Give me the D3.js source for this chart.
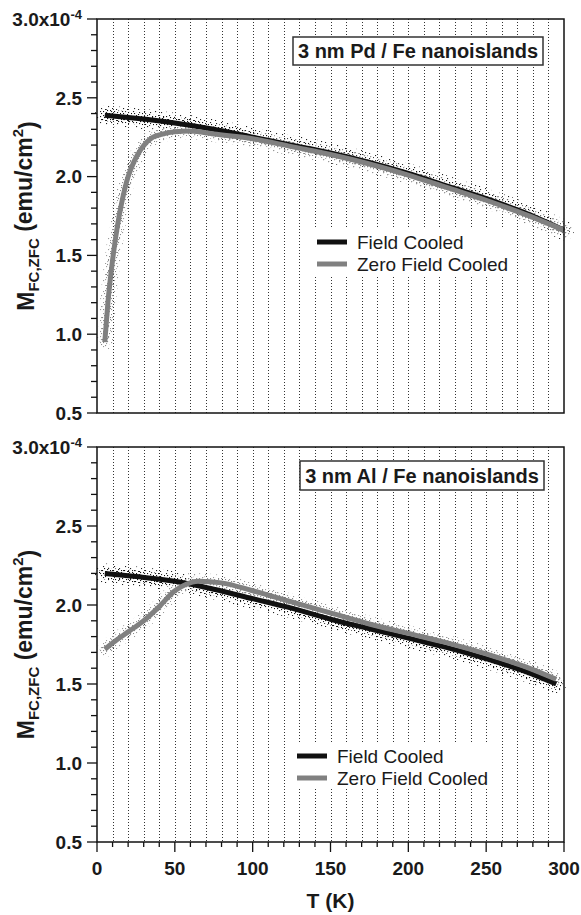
<!DOCTYPE html>
<html>
<head>
<meta charset="utf-8">
<script src="https://cdn.jsdelivr.net/npm/d3@7"></script>
<style>
  body { margin: 0; background: #fff; }
  svg { display: block; font-family: "Liberation Sans", Arial, Helvetica, sans-serif; }
</style>
</head>
<body>
<div id="chart"></div>
<script>
// ---- data (M in units of 1e-4 emu/cm^2) ----
const temps_fc_pd = [5, 25, 50, 75, 100, 125, 150, 175, 200, 225, 250, 275, 300];
const fc_pd = [2.39, 2.37, 2.34, 2.30, 2.25, 2.20, 2.15, 2.09, 2.02, 1.94, 1.86, 1.77, 1.66];
const temps_zfc_pd = [5, 7, 10, 13, 16, 20, 24, 28, 32, 36, 42, 50, 60, 75, 100, 125, 150, 175, 200, 225, 250, 275, 300];
const zfc_pd = [0.95, 1.2, 1.47, 1.68, 1.84, 2.0, 2.10, 2.17, 2.22, 2.25, 2.27, 2.285, 2.29, 2.27, 2.24, 2.19, 2.14, 2.08, 2.01, 1.93, 1.85, 1.76, 1.66];

const temps_fc_al = [5, 25, 50, 75, 100, 125, 150, 175, 200, 225, 250, 275, 295];
const fc_al = [2.20, 2.18, 2.15, 2.10, 2.04, 1.98, 1.91, 1.85, 1.79, 1.73, 1.66, 1.58, 1.50];
const temps_zfc_al = [5, 10, 20, 30, 40, 50, 57, 65, 80, 100, 125, 150, 175, 200, 225, 250, 275, 295];
const zfc_al = [1.72, 1.76, 1.83, 1.90, 1.99, 2.09, 2.13, 2.15, 2.14, 2.09, 2.02, 1.95, 1.88, 1.82, 1.76, 1.69, 1.61, 1.53];

const y_ticks = [0.5, 1.0, 1.5, 2.0, 2.5, 3.0];
const x_ticks = [0, 50, 100, 150, 200, 250, 300];
const series_names = ["Field Cooled", "Zero Field Cooled"];
const titles = ["3 nm Pd / Fe nanoislands", "3 nm Al / Fe nanoislands"];

const width = 581, height = 915;
const svg = d3.select("#chart").append("svg").attr("width", width).attr("height", height);

// stipple patterns standing in for the raw measurement cloud
const defs = svg.append("defs");
function stipple(id, color, pts){
    const p = defs.append("pattern").attr("id", id)
        .attr("patternUnits", "userSpaceOnUse").attr("width", 11).attr("height", 11);
    pts.forEach(([px, py]) => p.append("rect").attr("x", px).attr("y", py)
        .attr("width", 1.1).attr("height", 1.1).attr("fill", color));
}
const dense = [[0,0],[4,1],[8,0],[2,3],[6,4],[10,3],[1,6],[5,7],[9,6],[3,9],[7,10],[0,9],[8,8]];
const sparse = [[1,1],[7,2],[4,5],[9,7],[2,9],[6,10]];
stipple("dotsBlackDense", "#111", dense);
stipple("dotsBlackSparse", "#222", sparse);
stipple("dotsGrayDense", "#888", dense);
stipple("dotsGraySparse", "#999", sparse);

const x = d3.scaleLinear().domain([0, 300]).range([97, 564]);

const panels = [
    {top: 19, bottom: 413, title: titles[0], box: [293, 37, 250, 28],
     fc: temps_fc_pd.map((t, i) => [t, fc_pd[i]]),
     zfc: temps_zfc_pd.map((t, i) => [t, zfc_pd[i]]),
     legend: {x: 317, y: 242, bg: [309, 229, 196, 46]}, xlabels: false},
    {top: 447, bottom: 842, title: titles[1], box: [300, 461, 244, 29],
     fc: temps_fc_al.map((t, i) => [t, fc_al[i]]),
     zfc: temps_zfc_al.map((t, i) => [t, zfc_al[i]]),
     legend: {x: 297, y: 756, bg: [289, 743, 200, 46]}, xlabels: true}
];

panels.forEach(drawPanel);

function drawPanel(cfg){
    const y = d3.scaleLinear().domain([0.5, 3.0]).range([cfg.bottom, cfg.top]);
    const g = svg.append("g");

    // dotted vertical grid every 10 K (snapped to pixel centres so dots stay crisp)
    g.selectAll(".grid").data(d3.range(10, 300, 10)).join("line")
        .attr("x1", d => Math.round(x(d)) + 0.5).attr("x2", d => Math.round(x(d)) + 0.5)
        .attr("y1", cfg.top).attr("y2", cfg.bottom)
        .attr("stroke", "#333").attr("stroke-width", 1)
        .attr("stroke-dasharray", "1,2");

    const line = d3.line().x(d => x(d[0])).y(d => y(d[1])).curve(d3.curveMonotoneX);

    // measurement clouds
    g.append("path").attr("d", line(cfg.fc)).attr("fill", "none")
        .attr("stroke", "url(#dotsBlackSparse)").attr("stroke-width", 20).attr("stroke-linecap", "round");
    g.append("path").attr("d", line(cfg.fc)).attr("fill", "none")
        .attr("stroke", "url(#dotsBlackDense)").attr("stroke-width", 12).attr("stroke-linecap", "round");
    g.append("path").attr("d", line(cfg.zfc)).attr("fill", "none")
        .attr("stroke", "url(#dotsGraySparse)").attr("stroke-width", 16).attr("stroke-linecap", "round");
    g.append("path").attr("d", line(cfg.zfc)).attr("fill", "none")
        .attr("stroke", "url(#dotsGrayDense)").attr("stroke-width", 10).attr("stroke-linecap", "round");

    // fitted curves
    g.append("path").attr("d", line(cfg.fc)).attr("fill", "none")
        .attr("stroke", "#111").attr("stroke-width", 5);
    g.append("path").attr("d", line(cfg.zfc)).attr("fill", "none")
        .attr("stroke", "#808080").attr("stroke-width", 5);

    // frame
    g.append("rect").attr("x", x(0)).attr("y", cfg.top)
        .attr("width", x(300) - x(0)).attr("height", cfg.bottom - cfg.top)
        .attr("fill", "none").attr("stroke", "#111").attr("stroke-width", 1.5);

    // left axis ticks
    const minor_y = d3.range(0.5, 3.0001, 0.1);
    g.selectAll(".ytick").data(minor_y).join("line")
        .attr("x1", d => x(0) - (Math.abs(d * 2 - Math.round(d * 2)) < 1e-6 ? 10 : 6))
        .attr("x2", x(0))
        .attr("y1", d => y(d)).attr("y2", d => y(d))
        .attr("stroke", "#111").attr("stroke-width", 1.3);

    const ylab = g.selectAll(".ylab").data(y_ticks).join("text")
        .attr("x", 82).attr("y", d => y(d)).attr("dy", "0.36em")
        .attr("text-anchor", "end").attr("font-size", 19).attr("font-weight", "bold")
        .attr("fill", "#1a1a1a");
    ylab.each(function(d){
        const t = d3.select(this);
        if (d === 3.0){
            t.append("tspan").text("3.0x10");
            t.append("tspan").attr("font-size", 13).attr("dy", "-0.55em").text("-4");
        } else {
            t.text(d.toFixed(1));
        }
    });

    // y axis title
    const cy = (cfg.top + cfg.bottom) / 2;
    const yt = g.append("text").attr("transform", `translate(34,${cy}) rotate(-90)`)
        .attr("text-anchor", "middle").attr("font-size", 23).attr("font-weight", "bold")
        .attr("fill", "#1a1a1a");
    yt.append("tspan").text("M");
    yt.append("tspan").attr("font-size", 15).attr("dy", "0.3em").text("FC,ZFC");
    yt.append("tspan").attr("dy", "-0.3em").text(" (emu/cm");
    yt.append("tspan").attr("font-size", 15).attr("dy", "-0.55em").text("2");
    yt.append("tspan").attr("dy", "0.55em").text(")");

    // title box
    g.append("rect").attr("x", cfg.box[0]).attr("y", cfg.box[1])
        .attr("width", cfg.box[2]).attr("height", cfg.box[3])
        .attr("fill", "#fff").attr("stroke", "#333").attr("stroke-width", 1.5);
    g.append("text").attr("x", cfg.box[0] + cfg.box[2] / 2).attr("y", cfg.box[1] + cfg.box[3] / 2)
        .attr("dy", "0.36em").attr("text-anchor", "middle")
        .attr("font-size", 20).attr("font-weight", "bold").attr("fill", "#1a1a1a")
        .text(cfg.title);

    // legend
    const lg = cfg.legend;
    g.append("rect").attr("x", lg.bg[0]).attr("y", lg.bg[1])
        .attr("width", lg.bg[2]).attr("height", lg.bg[3]).attr("fill", "#fff");
    const colors = ["#111", "#808080"];
    series_names.forEach((name, i) => {
        const ly = lg.y + i * 22;
        g.append("line").attr("x1", lg.x).attr("x2", lg.x + 30)
            .attr("y1", ly).attr("y2", ly)
            .attr("stroke", colors[i]).attr("stroke-width", 5);
        g.append("text").attr("x", lg.x + 40).attr("y", ly).attr("dy", "0.36em")
            .attr("font-size", 19).attr("fill", "#1a1a1a").text(name);
    });

    // x axis ticks and labels on the lower panel only
    if (cfg.xlabels){
        g.selectAll(".xtick").data(d3.range(0, 301, 10)).join("line")
            .attr("x1", d => x(d)).attr("x2", d => x(d))
            .attr("y1", cfg.bottom).attr("y2", d => cfg.bottom + (d % 50 === 0 ? 10 : 5))
            .attr("stroke", "#111").attr("stroke-width", 1.3);
        g.selectAll(".xlab").data(x_ticks).join("text")
            .attr("x", d => x(d)).attr("y", 875)
            .attr("text-anchor", "middle").attr("font-size", 19).attr("font-weight", "bold")
            .attr("fill", "#1a1a1a").text(d => d);
        g.append("text").attr("x", (x(0) + x(300)) / 2).attr("y", 908)
            .attr("text-anchor", "middle").attr("font-size", 21).attr("font-weight", "bold")
            .attr("fill", "#1a1a1a").text("T (K)");
    }
}
</script>
</body>
</html>
